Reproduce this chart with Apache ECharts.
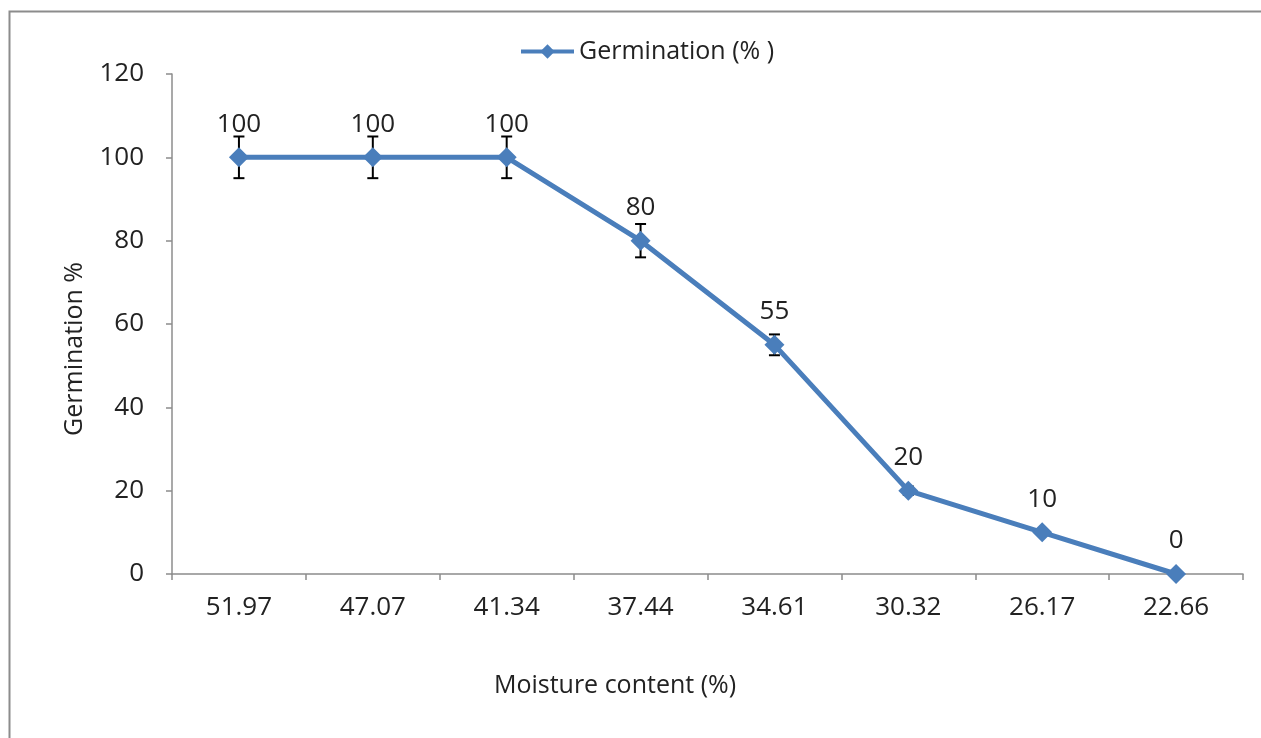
<!DOCTYPE html>
<html>
<head>
<meta charset="utf-8">
<script src="https://cdn.jsdelivr.net/npm/echarts@6/dist/echarts.min.js"></script>
<style>html,body{margin:0;padding:0;background:#fff;}#c{width:1261px;height:738px;}</style>
</head>
<body>
<div id="c"></div>
<script>
var categories = ['51.97', '47.07', '41.34', '37.44', '34.61', '30.32', '26.17', '22.66'];
var germination = [100, 100, 100, 80, 55, 20, 10, 0];
var errors = [5, 5, 5, 4, 2.5, 1, 0, 0];
var yTicks = { min: 0, max: 120, interval: 20 };

var FONT = 'Open Sans';
var chart = echarts.init(document.getElementById('c'));
var errData = categories.map(function (c, i) {
  return [i, germination[i] - errors[i], germination[i] + errors[i]];
});
chart.setOption({
  animation: false,
  backgroundColor: '#fff',
  textStyle: { fontFamily: FONT },
  graphic: [{
    type: 'rect', shape: { x: 9.5, y: 11.5, width: 1400, height: 900 },
    style: { fill: 'none', stroke: '#8c8c8c', lineWidth: 2 }, silent: true, z: -10
  }, {
    type: 'text', x: 615, y: 686,
    style: { text: 'Moisture content (%)', font: '25px "Open Sans"', fill: '#222', align: 'center', verticalAlign: 'middle' }
  }, {
    type: 'text', x: 75, y: 349, rotation: Math.PI / 2,
    style: { text: 'Germination %', font: '25px "Open Sans"', fill: '#222', align: 'center', verticalAlign: 'middle' }
  }],
  legend: {
    data: [{ name: 'Germination (% )' }],
    left: 514, top: 34,
    itemWidth: 53, itemHeight: 18, itemGap: 4,
    lineStyle: { width: 4, color: '#4a7ebb' },
    textStyle: { fontFamily: FONT, fontSize: 25, color: '#222' }
  },
  grid: { left: 172, right: 18, top: 74, bottom: 164 },
  xAxis: {
    type: 'category', data: categories, boundaryGap: true,
    axisLine: { lineStyle: { color: '#8c8c8c', width: 1.5 } },
    axisTick: { show: true, length: 6, lineStyle: { color: '#8c8c8c', width: 1.5 } },
    axisLabel: { fontFamily: FONT, fontSize: 26, color: '#222', margin: 21 }
  },
  yAxis: {
    type: 'value', min: yTicks.min, max: yTicks.max, interval: yTicks.interval,
    splitLine: { show: false },
    axisLine: { show: true, lineStyle: { color: '#8c8c8c', width: 1.5 } },
    axisTick: { show: true, length: 6, lineStyle: { color: '#8c8c8c', width: 1.5 } },
    axisLabel: { fontFamily: FONT, fontSize: 26, color: '#222', margin: 28 }
  },
  series: [{
    name: 'Germination (% )', type: 'line', data: germination,
    symbol: 'diamond', symbolSize: 20,
    lineStyle: { color: '#4a7ebb', width: 5 },
    itemStyle: { color: '#4a7ebb' },
    label: { show: true, position: 'top', distance: 10, fontFamily: FONT, fontSize: 26, color: '#222' },
    z: 3
  }, {
    type: 'custom', data: errData, z: 2, silent: true,
    renderItem: function (params, api) {
      var x = api.value(0);
      var lo = api.coord([x, api.value(1)]);
      var hi = api.coord([x, api.value(2)]);
      if (Math.abs(lo[1] - hi[1]) < 0.5) return null;
      var hw = 5.5;
      var st = { stroke: '#000', lineWidth: 2, fill: 'none' };
      return {
        type: 'group', children: [
          { type: 'line', shape: { x1: hi[0], y1: hi[1], x2: lo[0], y2: lo[1] }, style: st },
          { type: 'line', shape: { x1: hi[0] - hw, y1: hi[1], x2: hi[0] + hw, y2: hi[1] }, style: st },
          { type: 'line', shape: { x1: lo[0] - hw, y1: lo[1], x2: lo[0] + hw, y2: lo[1] }, style: st }
        ]
      };
    }
  }]
});
</script>
</body>
</html>
